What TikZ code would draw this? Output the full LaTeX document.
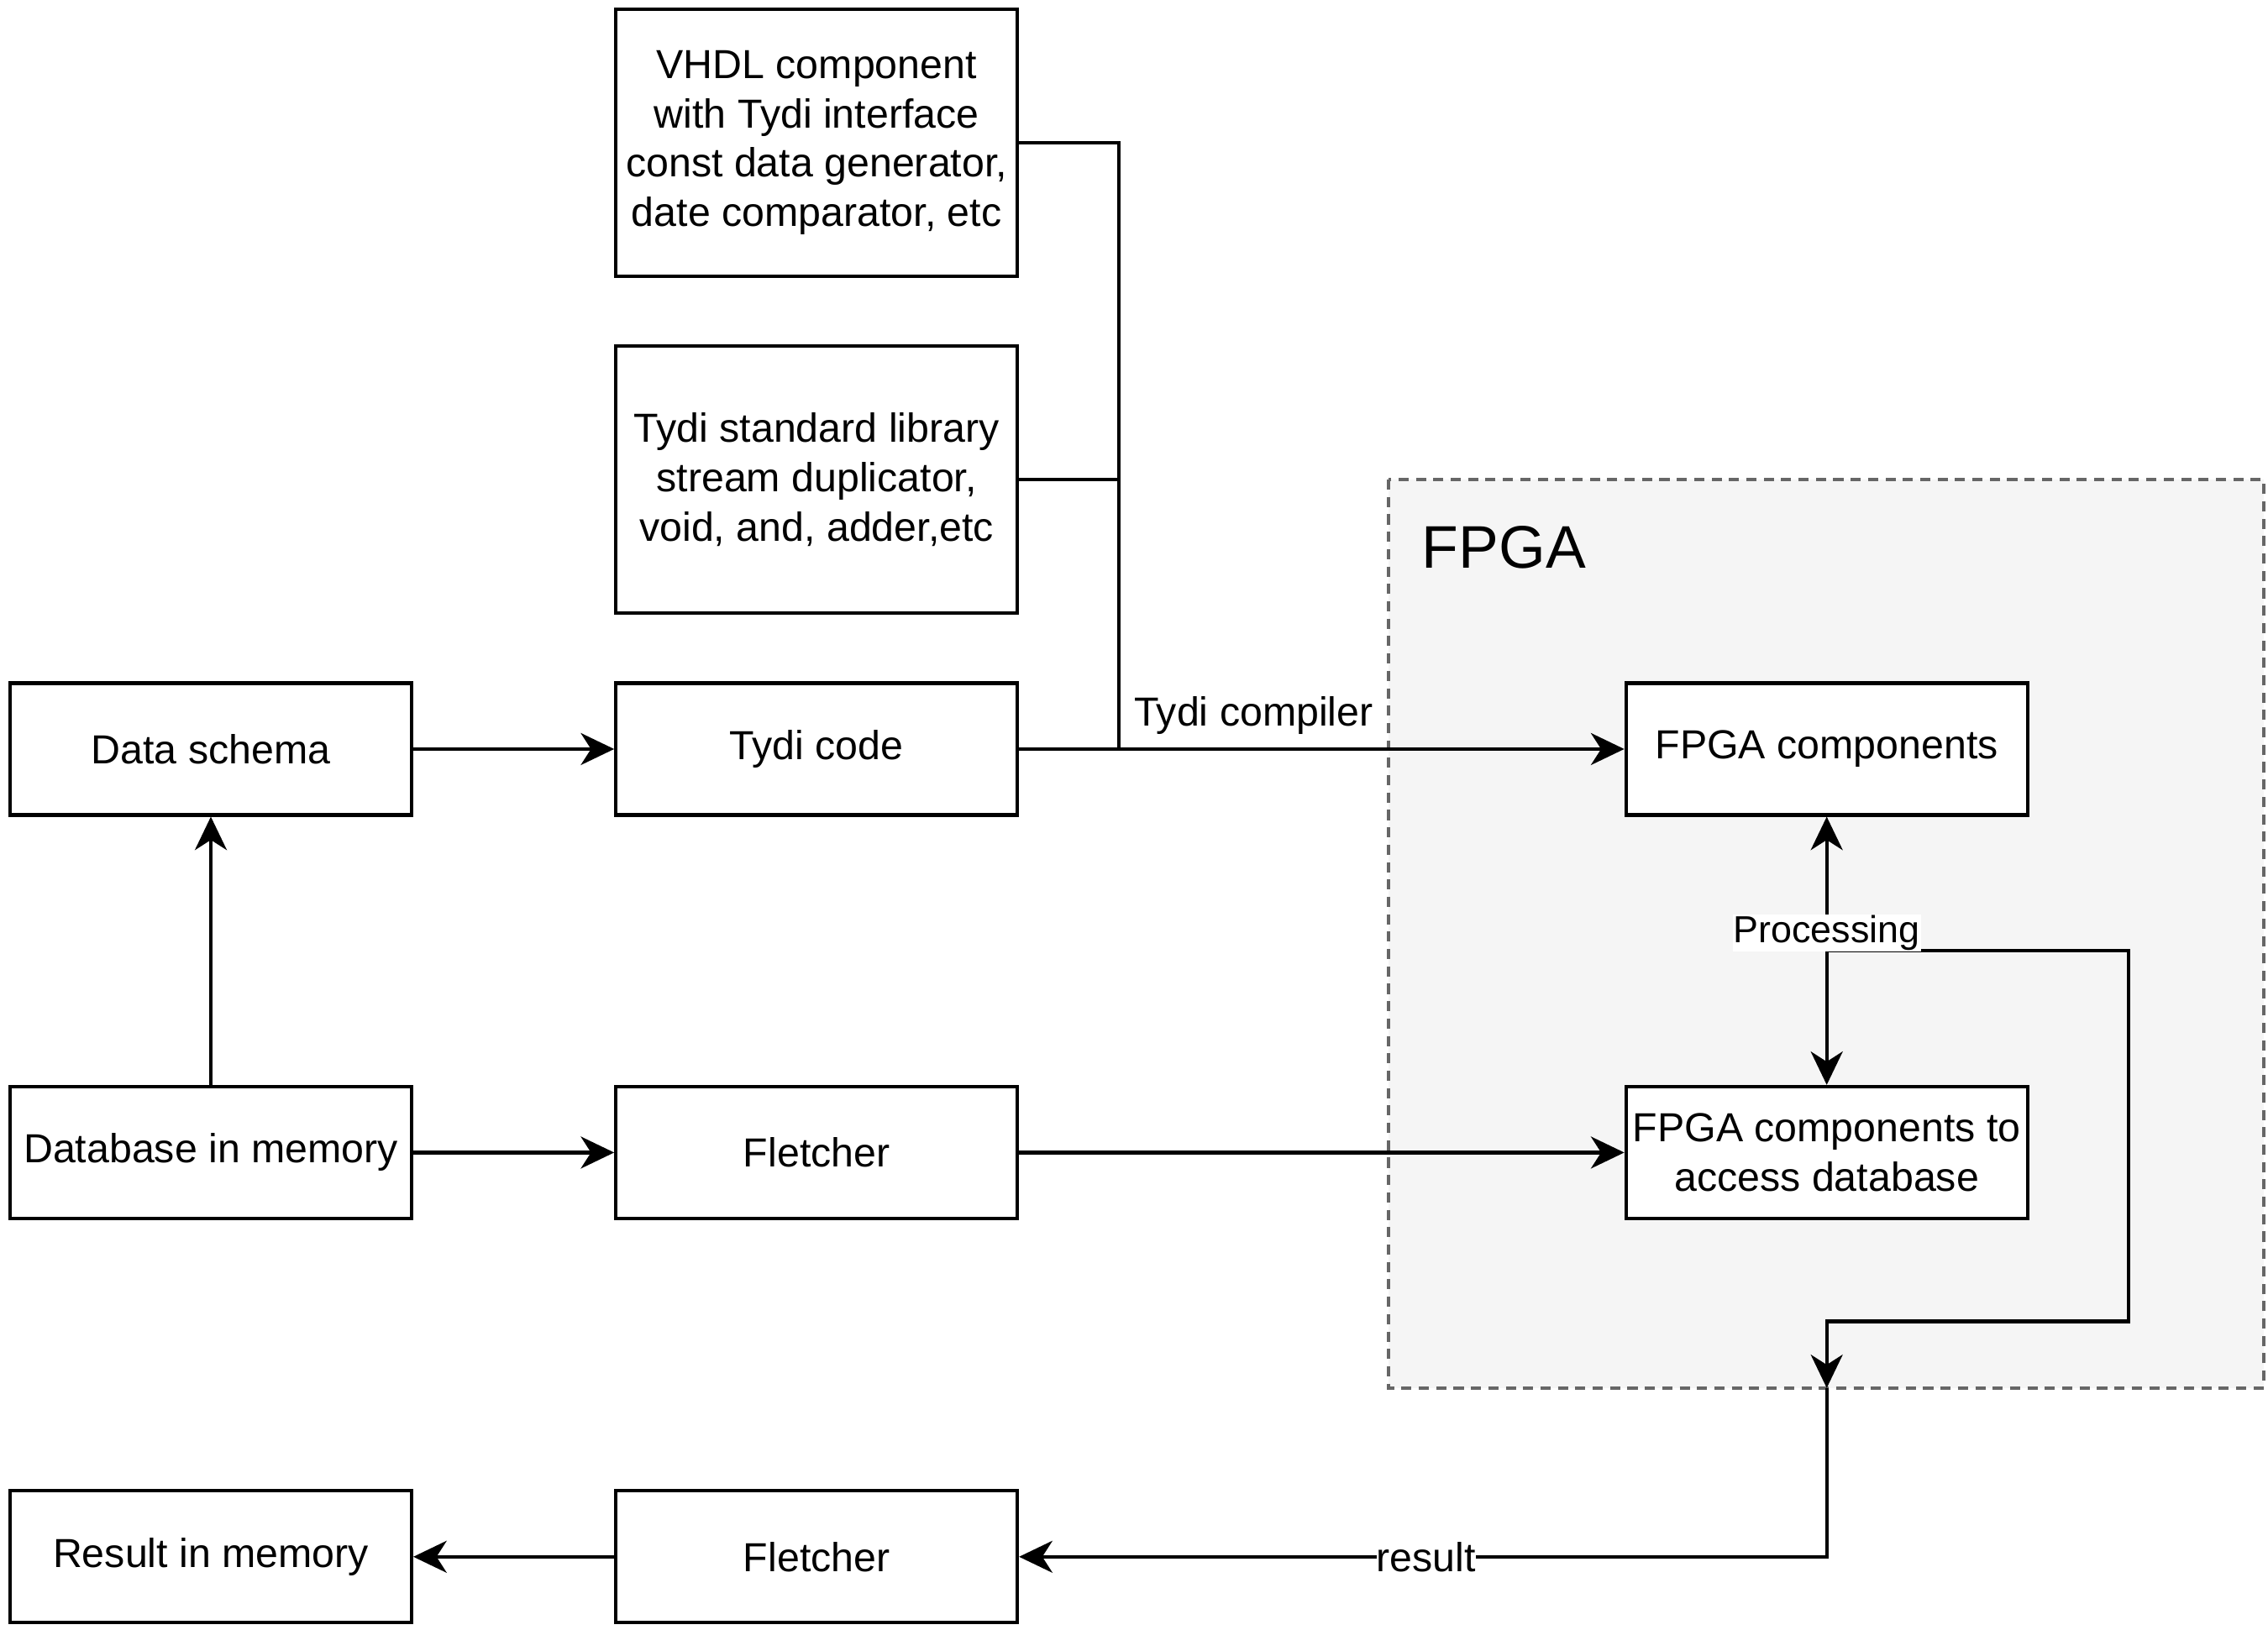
\documentclass[tikz,border=0pt]{standalone}
\usepackage{fontspec}
\setmainfont{Liberation Sans}
\usetikzlibrary{arrows.meta}
\begin{document}
\begin{tikzpicture}[x=1pt,y=-1pt,
  box/.style={draw=black, line width=2.4pt, fill=white, minimum width=277pt, minimum height=91pt,
    align=center, inner sep=0pt, font=\fontsize{28pt}{34pt}\selectfont},
  conn/.style={line width=2.4pt, draw=black},
  tip/.tip={Stealth[length=23pt, width=22pt, inset=7pt]},
  arr/.style={conn, -tip},
  lbl/.style={font=\fontsize{28pt}{33pt}\selectfont, inner sep=1pt},
]
\useasboundingbox (0,0) rectangle (1565,1124.5);
% FPGA region
\draw[draw=black!60, line width=2.4pt, fill=black!4, dash pattern=on 7pt off 5pt] (958,331) rectangle (1562,958);
\node[anchor=base west, inner sep=0pt, font=\fontsize{41.5pt}{45pt}\selectfont] (fpgalbl) at (981,392) {FPGA};
\coordinate (fpgabot) at (1260.5,958);

\node[box, minimum height=184pt] (vhdl) at (563.5,98.5) {VHDL component\\with Tydi interface\\const data generator,\\date comparator, etc};
\node[box, minimum height=184pt] (stdlib) at (563.5,331) {Tydi standard library\\stream duplicator,\\void, and, adder,etc};
\node[box] (schema) at (145.5,517) {Data schema};
\node[box] (tydi) at (563.5,517) {Tydi code};
\node[box] (fpgac) at (1260.5,517) {FPGA components};
\node[box] (dbmem) at (145.5,795.5) {Database in memory};
\node[box] (fletch1) at (563.5,795.5) {Fletcher};
\node[box] (access) at (1260.5,795.5) {FPGA components to\\access database};
\node[box] (resmem) at (145.5,1074.5) {Result in memory};
\node[box] (fletch2) at (563.5,1074.5) {Fletcher};

\coordinate (junc) at (772,517);
\draw[conn] (vhdl.east) -- (vhdl.east -| junc) -- (junc);
\draw[conn] (stdlib.east) -- (stdlib.east -| junc);
\draw[arr] (tydi.east) -- (fpgac.west);
\node[lbl, anchor=base] (tclbl) at (865,501) {Tydi compiler};

\draw[arr] (schema.east) -- (tydi.west);
\draw[arr] (dbmem.north) -- (schema.south);
\draw[arr] (dbmem.east) -- (fletch1.west);
\draw[arr] (fletch1.east) -- (access.west);

\coordinate (ploop) at (1260.5,656);
\draw[arr] (ploop) -- (1469,656) -- (1469,912) -- (1260.5,912) -- (fpgabot);
\draw[conn, tip-tip] (fpgac.south) -- (access.north);
\node[lbl, fill=white, font=\fontsize{26pt}{30pt}\selectfont, inner sep=0.5pt] (proc) at (1260.5,644) {Processing};

\draw[arr] (fpgabot) -- (1260.5,1074.5) -- (fletch2.east);
\node[lbl, fill=white, inner sep=0pt] (reslbl) at (984,1075) {result};

\draw[arr] (fletch2.west) -- (resmem.east);
\end{tikzpicture}
\end{document}
